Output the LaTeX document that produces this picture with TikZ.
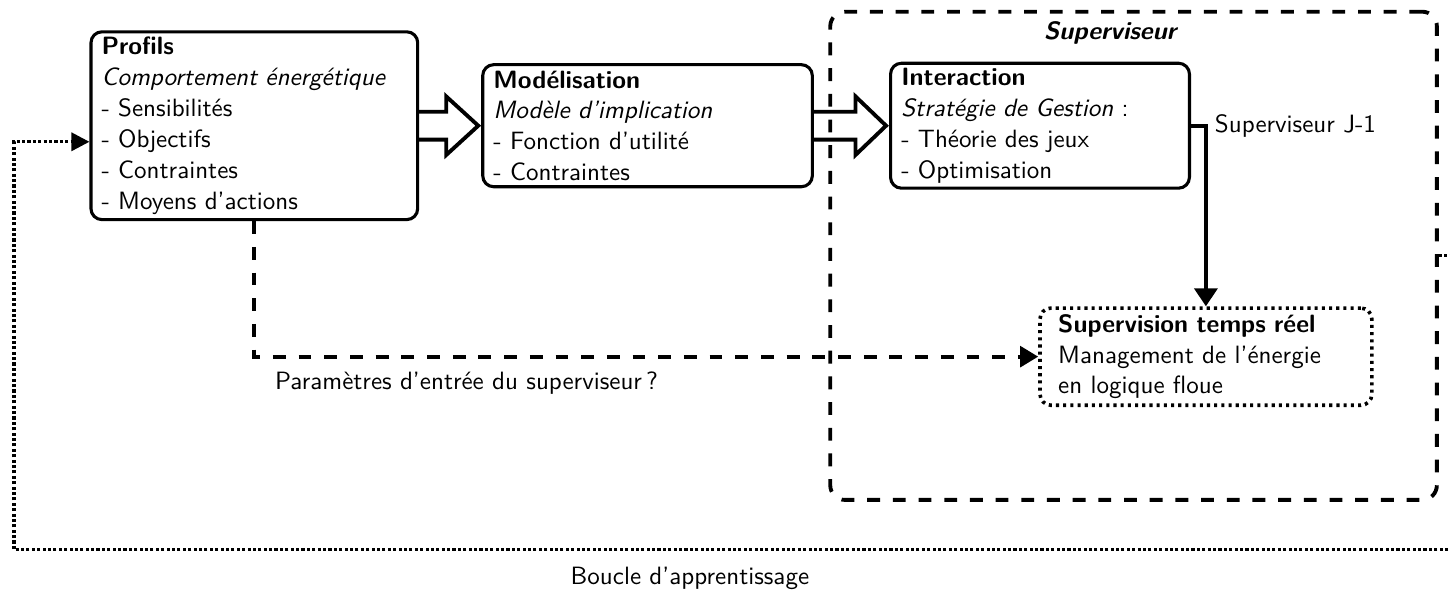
\documentclass[tikz,border=0pt]{standalone}
\usepackage{fontspec}
\renewcommand{\familydefault}{\sfdefault}
\usepackage{tikz}
\usetikzlibrary{arrows.meta, positioning, calc}

\begin{document}
\begin{tikzpicture}[
  every node/.style={font=\fontsize{9.75pt}{12pt}\selectfont},
  bloc/.style={draw, line width=1.2pt, rounded corners=1.5mm, align=left, inner xsep=2.5pt, inner ysep=1pt},
  rtbloc/.style={bloc, line width=1.4pt, dash pattern=on 1.2pt off 1.6pt, inner xsep=7pt},
  cadre/.style={draw, line width=1.5pt, dash pattern=on 5pt off 5pt, rounded corners=2mm},
  hollow/.style={line width=1.5pt, line join=miter},
  lien/.style={line width=1.4pt, -{Triangle[length=7pt,width=9pt]}},
  pointille/.style={line width=1.5pt, dash pattern=on 5pt off 5pt, -{Triangle[length=7pt,width=8pt]}},
  boucle/.style={line width=1.3pt, dash pattern=on 1.2pt off 0.9pt, -{Triangle[length=7pt,width=7pt]}}
]
\path[use as bounding box, clip] (0,0) rectangle (19.84,-8.11);
\node[cadre, minimum width=8.30cm, minimum height=6.68cm] (sup) at (15.51,-3.50) {};
\node[font=\fontsize{9.75pt}{12pt}\selectfont\bfseries\itshape] (suplbl) at (15.19,-0.45) {Superviseur};
\node[bloc, minimum width=4.47cm, minimum height=2.57cm, text width=119pt] (profils) at (3.48,-1.72)
  {\textbf{Profils}\\ \textit{Comportement énergétique}\\ - Sensibilités\\ - Objectifs\\ - Contraintes\\ - Moyens d'actions};
\node[bloc, minimum width=4.51cm, minimum height=1.67cm, text width=120pt] (model) at (8.86,-1.72)
  {\textbf{Modélisation}\\ \textit{Modèle d'implication}\\ - Fonction d'utilité\\ - Contraintes};
\node[bloc, minimum width=4.09cm, minimum height=1.71cm, text width=108pt] (inter) at (14.23,-1.72)
  {\textbf{Interaction}\\ \textit{Stratégie de Gestion} :\\ - Théorie des jeux\\ - Optimisation};
\node[rtbloc, minimum width=4.54cm, minimum height=1.33cm, text width=115pt] (realtime) at (16.50,-4.88)
  {\textbf{Supervision temps réel}\\ Management de l'énergie\\ en logique floue};
\node[anchor=west] (j1) at (realtime.north |- inter.east) {Superviseur J-1};
\node[anchor=west] (param) at (3.64,-5.24) {Paramètres d'entrée du superviseur\,?};
\node (apprent) at (9.44,-7.91) {Boucle d'apprentissage};
% grosses fleches creuses
\draw[hollow] ($(profils.east)+(0,0.19)$) -- ++(0.37,0) -- ++(0,0.21) -- ($(model.west)+(-0.04,0)$)
  -- ($(profils.east)+(0.37,-0.40)$) -- ++(0,0.21) -- ($(profils.east)+(0,-0.19)$);
\draw[hollow] ($(model.east)+(0,0.19)$) -- ++(0.57,0) -- ++(0,0.21) -- ($(inter.west)+(-0.04,0)$)
  -- ($(model.east)+(0.57,-0.40)$) -- ++(0,0.21) -- ($(model.east)+(0,-0.19)$);
\draw[lien] (inter.east) -| (realtime.north);
\draw[pointille] (profils.south) |- (realtime.west);
% boucle d'apprentissage
\draw[boucle] (sup.east) -- ++(0.6,0) |- (0.19,-7.52) |- ($(profils.west)+(0,-0.22)$);
\end{tikzpicture}
\end{document}
